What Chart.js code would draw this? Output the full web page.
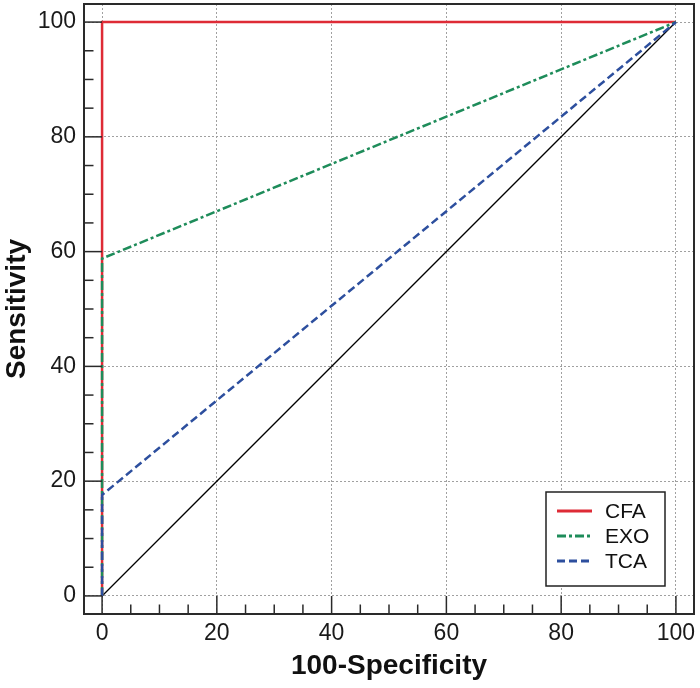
<!DOCTYPE html>
<html>
<head>
<meta charset="utf-8">
<script src="https://cdn.jsdelivr.net/npm/chart.js@4.4.1/dist/chart.umd.min.js"></script>
<style>
  html, body { margin: 0; padding: 0; background: #fff; }
  #wrap { width: 700px; height: 688px; }
</style>
</head>
<body>
<div id="wrap"><canvas id="roc" width="700" height="688"></canvas></div>
<script>
// ROC curve points (100-specificity, sensitivity)
const fpr = [0, 0, 100];
const cfaSens = [0, 100, 100];
const exoSens = [0, 58.8, 100];
const tcaSens = [0, 17.6, 100];
const refLine = [0, 100];
const refX = [0, 100];
const seriesNames = ['CFA', 'EXO', 'TCA'];
const tickValues = [0, 20, 40, 60, 80, 100];

const colors = { CFA: '#de2b36', EXO: '#1e8c5a', TCA: '#2d4f9e' };
const dashes = { CFA: [], EXO: [9, 3, 3, 3], TCA: [8, 4] };

function pts(xs, ys) {
    return xs.map((x, i) => ({ x: x, y: ys[i] }));
}

const font = 'Liberation Sans, Arial, Helvetica, sans-serif';

// frame, ticks on left/bottom, and legend box
const decor = {
    id: 'decor',
    afterDraw(chart) {
        const ctx = chart.ctx;
        const a = chart.chartArea;
        const xs = chart.scales.x, ys = chart.scales.y;
        ctx.save();
        ctx.strokeStyle = '#2a2a2a';
        ctx.lineWidth = 1.5;
        ctx.setLineDash([]);
        for (let v = 0; v <= 100; v += 5) {
            const major = v % 20 === 0;
            const len = major ? 18 : 9.5;
            const px = xs.getPixelForValue(v);
            ctx.beginPath();
            ctx.moveTo(px, a.bottom);
            ctx.lineTo(px, a.bottom - len);
            ctx.stroke();
            const py = ys.getPixelForValue(v);
            ctx.beginPath();
            ctx.moveTo(a.left, py);
            ctx.lineTo(a.left + len, py);
            ctx.stroke();
        }
        ctx.lineWidth = 2;
        ctx.strokeRect(a.left, a.top, a.right - a.left, a.bottom - a.top);

        // legend
        const lx = 546, ly = 492, lw = 119, lh = 94;
        ctx.fillStyle = '#fff';
        ctx.fillRect(lx, ly, lw, lh);
        ctx.lineWidth = 1.5;
        ctx.strokeStyle = '#222';
        ctx.strokeRect(lx, ly, lw, lh);
        ctx.font = '21px ' + font;
        ctx.textBaseline = 'middle';
        seriesNames.forEach((name, i) => {
            const y = 511 + i * 25;
            ctx.strokeStyle = colors[name];
            ctx.lineWidth = 3;
            ctx.setLineDash(dashes[name]);
            ctx.beginPath();
            ctx.moveTo(557, y);
            ctx.lineTo(592, y);
            ctx.stroke();
            ctx.setLineDash([]);
            ctx.fillStyle = '#111';
            ctx.fillText(name, 605, y + 1);
        });
        ctx.restore();
    }
};

function makeSet(name, ys, order) {
    return {
        label: name,
        data: pts(fpr, ys),
        borderColor: colors[name],
        borderWidth: 2.5,
        borderDash: dashes[name],
        showLine: true,
        pointRadius: 0,
        fill: false,
        order: order
    };
}

const gridOpts = {
    color: '#a0a0a0',
    lineWidth: 1,
    drawTicks: false
};

new Chart(document.getElementById('roc').getContext('2d'), {
    type: 'scatter',
    data: {
        datasets: [
            makeSet('CFA', cfaSens, 3),
            makeSet('EXO', exoSens, 2),
            makeSet('TCA', tcaSens, 1),
            {
                label: 'ref',
                data: pts(refX, refLine),
                borderColor: '#000',
                borderWidth: 1.3,
                showLine: true,
                pointRadius: 0,
                fill: false,
                order: 4
            }
        ]
    },
    options: {
        responsive: false,
        animation: false,
        layout: { padding: { top: 4, right: 6, left: 0, bottom: 0 } },
        plugins: { legend: { display: false }, tooltip: { enabled: false } },
        scales: {
            x: {
                type: 'linear',
                min: -3.15,
                max: 103.15,
                afterBuildTicks: s => { s.ticks = tickValues.map(v => ({ value: v })); },
                afterFit: s => { s.height = 74; s.paddingLeft = 0; s.paddingRight = 0; },
                ticks: { font: { size: 23, family: font }, color: '#1a1a1a', padding: 6, maxRotation: 0 },
                grid: gridOpts,
                border: { display: false, dash: [2, 2] },
                title: {
                    display: true,
                    text: '100-Specificity',
                    color: '#111',
                    font: { size: 28, weight: 'bold', family: font, lineHeight: 1.2 },
                    padding: { top: 0, bottom: 5 }
                }
            },
            y: {
                type: 'linear',
                min: -3.15,
                max: 103.15,
                afterBuildTicks: s => { s.ticks = tickValues.map(v => ({ value: v })); },
                afterFit: s => { s.width = 84; s.paddingTop = 0; s.paddingBottom = 0; },
                ticks: { font: { size: 23, family: font }, color: '#1a1a1a', padding: 8 },
                grid: gridOpts,
                border: { display: false, dash: [2, 2] },
                title: {
                    display: true,
                    text: 'Sensitivity',
                    color: '#111',
                    font: { size: 28, weight: 'bold', family: font, lineHeight: 1.2 },
                    padding: { top: 0, bottom: 0 }
                }
            }
        }
    },
    plugins: [decor]
});
</script>
</body>
</html>
